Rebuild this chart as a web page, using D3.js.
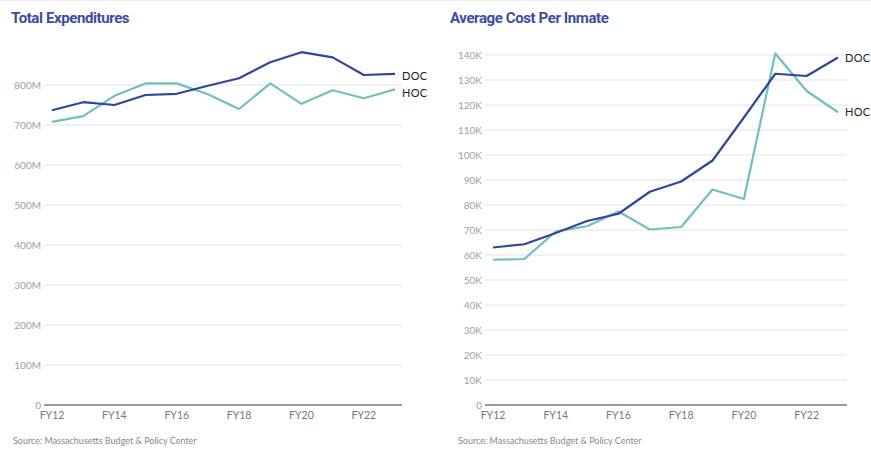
<!DOCTYPE html>
<html>
<head>
<meta charset="utf-8">
<script src="https://cdn.jsdelivr.net/npm/d3@7"></script>
<style>
  body { margin: 0; background: #fff; }
  svg { display: block; }
  .title { font-family: Roboto, sans-serif; font-weight: 700; font-size: 15px; fill: #3b4d9c; letter-spacing: -0.4px; }
  .tick-label { font-family: Lato, sans-serif; font-size: 10px; fill: #a0a0a0; }
  .x-label { font-family: Lato, sans-serif; font-size: 10.5px; fill: #777; }
  .series-label { font-family: Lato, sans-serif; font-size: 11px; fill: #222; letter-spacing: 0.3px; }
  .source { font-family: Lato, sans-serif; font-size: 9px; fill: #888; }
</style>
</head>
<body>
<div id="chart"></div>
<script>
// fiscal years
const years = [2012, 2013, 2014, 2015, 2016, 2017, 2018, 2019, 2020, 2021, 2022, 2023];
const xTickYears = [2012, 2014, 2016, 2018, 2020, 2022];

// Total expenditures, millions of dollars
const expDOC = [737, 757, 750, 775, 778, 798, 817, 857, 882, 869, 825, 828];
const expHOC = [708, 722, 773, 804, 804, 777, 740, 804, 753, 787, 767, 789];
const expTicks = [0, 100, 200, 300, 400, 500, 600, 700, 800];

// Average cost per inmate, thousands of dollars
const costDOC = [63, 64.3, 68.8, 73.6, 76.5, 85.3, 89.4, 97.8, 115, 132.5, 131.6, 139];
const costHOC = [58.1, 58.4, 69.4, 71.5, 77.4, 70.2, 71.2, 86.2, 82.4, 140.6, 125.6, 117.1];
const costTicks = [0, 10, 20, 30, 40, 50, 60, 70, 80, 90, 100, 110, 120, 130, 140];

const colorDOC = "#2f4795";
const colorHOC = "#72bfbe";

const width = 871, height = 449;

const svg = d3.select("#chart")
  .append("svg")
  .attr("width", width)
  .attr("height", height);

// faint rule across the top
svg.append("line")
  .attr("x1", 0).attr("x2", width)
  .attr("y1", 0.5).attr("y2", 0.5)
  .attr("stroke", "#f0f0f0");

function drawPanel(opts) {
  const g = svg.append("g");

  const x = d3.scaleLinear().domain([2012, 2023]).range([opts.x0, opts.x1]);
  const y = d3.scaleLinear().domain(opts.yDomain).range(opts.yRange);

  g.append("text")
    .attr("class", "title")
    .attr("x", opts.titleX)
    .attr("y", 23)
    .text(opts.title);

  // gridlines
  g.selectAll(".grid")
    .data(opts.ticks.filter(d => d !== 0))
    .enter()
    .append("line")
    .attr("class", "grid")
    .attr("x1", opts.gridX0).attr("x2", opts.gridX1)
    .attr("y1", d => y(d)).attr("y2", d => y(d))
    .attr("stroke", "#ececec")
    .attr("stroke-width", 1.5);

  // baseline
  g.append("line")
    .attr("x1", opts.gridX0).attr("x2", opts.gridX1)
    .attr("y1", y(0)).attr("y2", y(0))
    .attr("stroke", "#9a9a9a")
    .attr("stroke-width", 2);

  // y labels
  g.selectAll(".tick-label")
    .data(opts.ticks)
    .enter()
    .append("text")
    .attr("class", "tick-label")
    .attr("text-anchor", "end")
    .attr("x", opts.gridX0 - 3)
    .attr("y", d => y(d) + 3.5)
    .text(d => d === 0 ? "0" : d + opts.suffix);

  // x labels
  g.selectAll(".x-label")
    .data(xTickYears)
    .enter()
    .append("text")
    .attr("class", "x-label")
    .attr("text-anchor", "middle")
    .attr("x", d => x(d))
    .attr("y", 419)
    .text(d => "FY" + String(d).slice(2));

  const line = d3.line()
    .x((d, i) => x(years[i]))
    .y(d => y(d));

  [[opts.hoc, colorHOC], [opts.doc, colorDOC]].forEach(([vals, color]) => {
    g.append("path")
      .datum(vals)
      .attr("d", line)
      .attr("fill", "none")
      .attr("stroke", color)
      .attr("stroke-width", 2.2)
      .attr("stroke-linejoin", "round");
  });

  g.append("text")
    .attr("class", "series-label")
    .attr("x", opts.labelX)
    .attr("y", y(opts.doc[opts.doc.length - 1]) + opts.docDy)
    .text("DOC");

  g.append("text")
    .attr("class", "series-label")
    .attr("x", opts.labelX)
    .attr("y", y(opts.hoc[opts.hoc.length - 1]) + opts.hocDy)
    .text("HOC");

  g.append("text")
    .attr("class", "source")
    .attr("x", opts.sourceX)
    .attr("y", 444)
    .text("Source: Massachusetts Budget & Policy Center");
}

drawPanel({
  title: "Total Expenditures",
  titleX: 11,
  sourceX: 13,
  x0: 52, x1: 395,
  gridX0: 44, gridX1: 402,
  yDomain: [0, 900], yRange: [405, 45],
  ticks: expTicks,
  suffix: "M",
  doc: expDOC, hoc: expHOC,
  labelX: 402,
  docDy: 6, hocDy: 8
});

drawPanel({
  title: "Average Cost Per Inmate",
  titleX: 450,
  sourceX: 458,
  x0: 493, x1: 838,
  gridX0: 485, gridX1: 847,
  yDomain: [0, 140], yRange: [405, 55],
  ticks: costTicks,
  suffix: "K",
  doc: costDOC, hoc: costHOC,
  labelX: 845,
  docDy: 4, hocDy: 4
});
</script>
</body>
</html>
